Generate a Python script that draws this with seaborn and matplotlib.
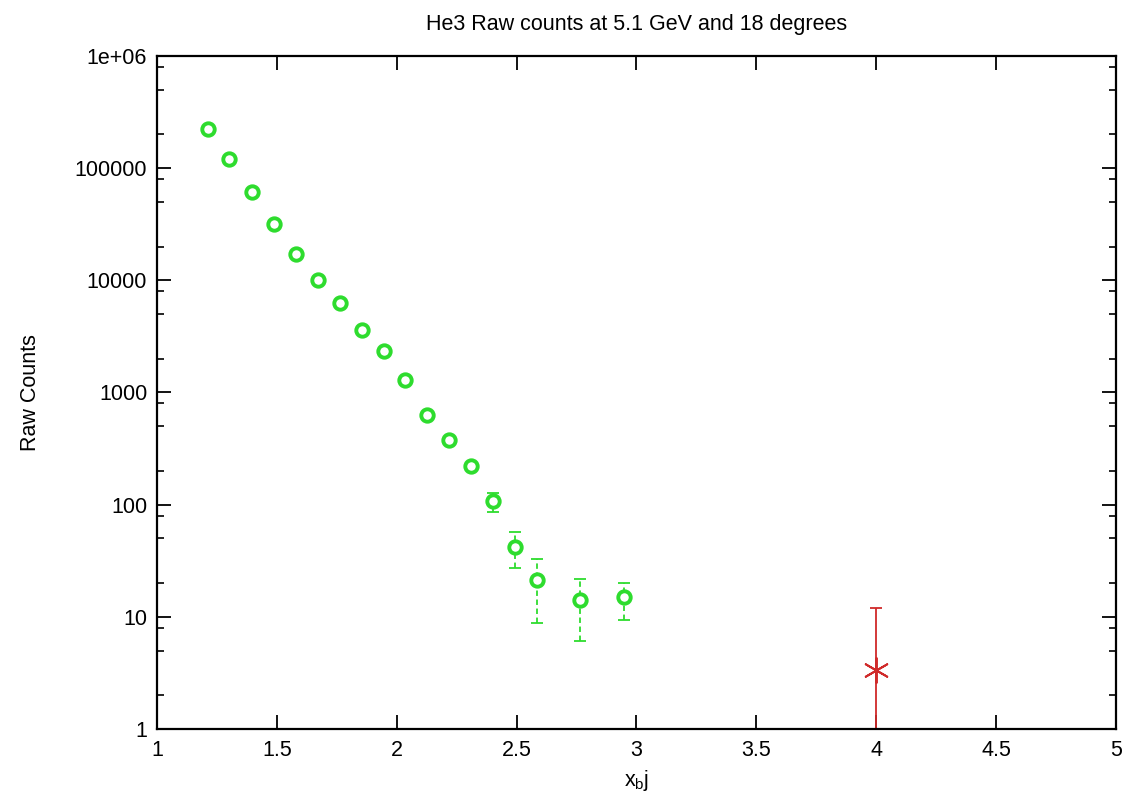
import numpy as np
import pandas as pd
import matplotlib
matplotlib.use("Agg")
import matplotlib.pyplot as plt
import matplotlib.ticker as mticker
import seaborn as sns

# ---- data ----
x_bj = [1.213, 1.300, 1.396, 1.488, 1.580, 1.672, 1.763, 1.855, 1.947,
        2.034, 2.126, 2.218, 2.310, 2.401, 2.493, 2.585, 2.764, 2.948]
counts = [223000, 121000, 61400, 31800, 17200, 10100, 6300, 3600, 2350,
          1290, 630, 378, 222, 108, 42, 21.4, 14.2, 15.1]
err_low = [222500, 120650, 61150, 31620, 17070, 10000, 6220, 3540, 2300,
           1255, 605, 358, 207, 86, 27, 8.9, 6.1, 9.4]
err_high = [223500, 121350, 61650, 31980, 17330, 10200, 6380, 3660, 2400,
            1325, 655, 398, 237, 127, 57, 33, 21.8, 20]

red_x = [4.0]
red_counts = [3.37]
red_low = [0.3]
red_high = [12.0]

x_ticks = [1, 1.5, 2, 2.5, 3, 3.5, 4, 4.5, 5]
x_tick_labels = ["1", "1.5", "2", "2.5", "3", "3.5", "4", "4.5", "5"]
y_ticks = [1, 10, 100, 1000, 10000, 100000, 1000000]
y_tick_labels = ["1", "10", "100", "1000", "10000", "100000", "1e+06"]

title = "He3 Raw counts at 5.1 GeV and 18 degrees"
xlabel = r"x$_{\mathregular{b}}$j"
ylabel = "Raw Counts"

GREEN = "#2edc2e"
RED = "#d02a2a"
FS = 15.5

sns.set_theme(style="ticks")
plt.rcParams["font.family"] = ["Liberation Sans", "DejaVu Sans"]
plt.rcParams["mathtext.fontset"] = "custom"
plt.rcParams["mathtext.rm"] = "Liberation Sans"

fig = plt.figure(figsize=(11.26, 7.95), dpi=100)
ax = fig.add_axes([0.1394, 0.0830, 0.8517, 0.8466])

df = pd.DataFrame({"x": x_bj, "y": counts, "lo": err_low, "hi": err_high})
dfr = pd.DataFrame({"x": red_x, "y": red_counts, "lo": red_low, "hi": red_high})

ax.set_yscale("log")

# green error bars (dashed)
eb = ax.errorbar(df["x"], df["y"],
                 yerr=[df["y"] - df["lo"], df["hi"] - df["y"]],
                 fmt="none", ecolor=GREEN, elinewidth=1.3, capsize=4,
                 capthick=1.3, zorder=2)
for lc in eb[2]:
    lc.set_linestyle((0, (3, 2)))

# red error bar (solid)
ax.errorbar(dfr["x"], dfr["y"],
            yerr=[dfr["y"] - dfr["lo"], dfr["hi"] - dfr["y"]],
            fmt="none", ecolor=RED, elinewidth=1.3, capsize=4,
            capthick=1.3, zorder=2)

sns.scatterplot(data=df, x="x", y="y", ax=ax, marker="o",
                s=80, facecolor="white", edgecolor=GREEN, linewidth=2.8,
                zorder=3, legend=False)
sns.scatterplot(data=dfr, x="x", y="y", ax=ax, marker=(6, 2, 0),
                s=320, color=RED, linewidth=1.4, zorder=3, legend=False)

ax.set_xlim(1, 5)
ax.set_ylim(1, 1e6)
ax.set_xticks(x_ticks)
ax.set_xticklabels(x_tick_labels)
ax.set_yticks(y_ticks)
ax.set_yticklabels(y_tick_labels)
ax.yaxis.set_minor_locator(mticker.LogLocator(base=10, subs=(2.0, 5.0, 8.0)))
ax.yaxis.set_minor_formatter(mticker.NullFormatter())
ax.xaxis.set_minor_locator(mticker.NullLocator())

ax.tick_params(axis="both", which="major", direction="in", length=10,
               width=1.3, labelsize=FS, top=True, right=True, color="black",
               labelcolor="black")
ax.tick_params(axis="y", which="minor", direction="in", length=5,
               width=1.2, right=True, color="black")
ax.tick_params(axis="y", which="major", pad=7)
ax.tick_params(axis="x", which="major", pad=8)

for sp in ax.spines.values():
    sp.set_visible(True)
    sp.set_color("black")
    sp.set_linewidth(1.6)

ax.set_title(title, fontsize=FS, pad=19, color="black")
ax.set_xlabel(xlabel, fontsize=FS, labelpad=5, color="black")
ax.set_ylabel(ylabel, fontsize=FS, labelpad=24, color="black")
ax.grid(False)
ax.set_facecolor("white")
fig.patch.set_facecolor("white")

fig.savefig("out.png", dpi=100, facecolor="white")
